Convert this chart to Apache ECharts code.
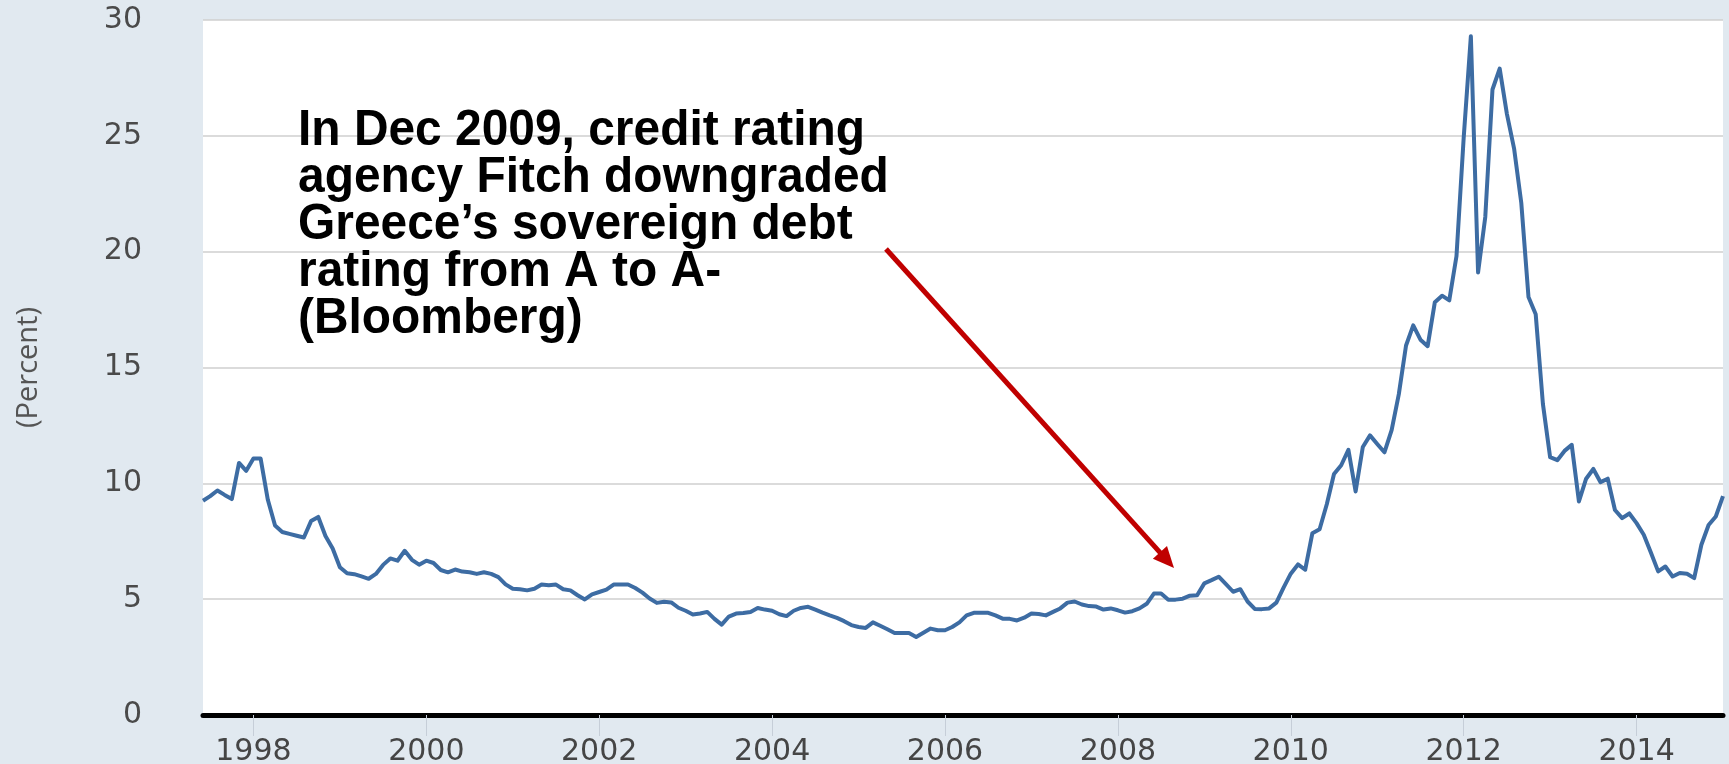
<!DOCTYPE html>
<html>
<head>
<meta charset="utf-8">
<title>Greece long-term government bond yields</title>
<script src="https://cdn.jsdelivr.net/npm/echarts@6/dist/echarts.min.js"></script>
<style>
  html, body { margin: 0; padding: 0; background: #e1e9f0; }
  #chart { width: 1729px; height: 764px; }
</style>
</head>
<body>
<div id="chart"></div>
<script>
// Monthly long-term interest rate for Greece, percent (Jun 1997 - Jan 2015)
const firstYear = 1997;
const firstMonth = 6;
const yields1997 = [9.25, 9.45, 9.69, 9.5, 9.32, 10.88, 10.54];
const yields1998 = [11.07, 11.07, 9.29, 8.18, 7.9, 7.82, 7.74, 7.66, 8.37, 8.55, 7.73, 7.19];
const yields1999 = [6.38, 6.12, 6.08, 5.98, 5.88, 6.09, 6.48, 6.76, 6.66, 7.09, 6.70, 6.49];
const yields2000 = [6.66, 6.56, 6.26, 6.16, 6.28, 6.19, 6.16, 6.09, 6.16, 6.09, 5.95, 5.64];
const yields2001 = [5.45, 5.43, 5.38, 5.45, 5.63, 5.60, 5.63, 5.43, 5.38, 5.17, 4.99, 5.21];
const yields2002 = [5.31, 5.41, 5.63, 5.63, 5.63, 5.48, 5.28, 5.03, 4.84, 4.89, 4.86, 4.63];
const yields2003 = [4.5, 4.34, 4.38, 4.45, 4.15, 3.9, 4.25, 4.38, 4.4, 4.45, 4.62, 4.55];
const yields2004 = [4.5, 4.35, 4.27, 4.5, 4.62, 4.67, 4.55, 4.42, 4.3, 4.19, 4.05, 3.88];
const yields2005 = [3.8, 3.76, 4.0, 3.85, 3.7, 3.54, 3.54, 3.54, 3.37, 3.55, 3.73, 3.66];
const yields2006 = [3.66, 3.8, 4.0, 4.3, 4.41, 4.41, 4.41, 4.3, 4.16, 4.15, 4.08, 4.2];
const yields2007 = [4.38, 4.36, 4.3, 4.45, 4.6, 4.85, 4.9, 4.77, 4.7, 4.68, 4.55, 4.6];
const yields2008 = [4.52, 4.42, 4.48, 4.6, 4.8, 5.24, 5.24, 4.97, 4.98, 5.02, 5.15, 5.17];
const yields2009 = [5.68, 5.82, 5.97, 5.65, 5.32, 5.43, 4.9, 4.58, 4.57, 4.6, 4.85, 5.5];
const yields2010 = [6.1, 6.5, 6.27, 7.85, 8.02, 9.1, 10.4, 10.78, 11.45, 9.65, 11.57, 12.07];
const yields2011 = [11.7, 11.34, 12.3, 13.85, 15.95, 16.82, 16.2, 15.92, 17.82, 18.1, 17.9, 19.8];
const yields2012 = [24.9, 29.3, 19.1, 21.5, 27.0, 27.9, 25.95, 24.45, 22.1, 18.04, 17.3, 13.43];
const yields2013 = [11.13, 11.0, 11.4, 11.66, 9.22, 10.2, 10.62, 10.05, 10.2, 8.85, 8.5, 8.7];
const yields2014 = [8.28, 7.78, 7.0, 6.2, 6.41, 5.98, 6.13, 6.1, 5.91, 7.35, 8.2, 8.57];
const yields2015 = [9.45];

const yieldValues = [].concat(
  yields1997, yields1998, yields1999, yields2000, yields2001, yields2002,
  yields2003, yields2004, yields2005, yields2006, yields2007, yields2008,
  yields2009, yields2010, yields2011, yields2012, yields2013, yields2014, yields2015
);

// Year labels shown under the axis (every second January)
const yearLabels = ['1998', '2000', '2002', '2004', '2006', '2008', '2010', '2012', '2014'];

const yTicks = { min: 0, max: 30, step: 5 };

const noteLines = [
  'In Dec 2009, credit rating',
  'agency Fitch downgraded',
  'Greece\u2019s sovereign debt',
  'rating from A to A-',
  '(Bloomberg)'
];

// Month categories "YYYY-MM"
const months = yieldValues.map(function (_, i) {
  const total = (firstMonth - 1) + i;
  const y = firstYear + Math.floor(total / 12);
  const m = (total % 12) + 1;
  return y + '-' + (m < 10 ? '0' + m : m);
});

function isYearTick(index) {
  const cat = months[index];
  return cat.slice(5) === '01' && yearLabels.indexOf(cat.slice(0, 4)) >= 0;
}

// Arrow from the note down to the 2008-2009 stretch of the line
const arrowFrom = [886, 249];
const arrowTip = [1174, 568];
const headLen = 21, headHalf = 9.5;
const dx = arrowTip[0] - arrowFrom[0], dy = arrowTip[1] - arrowFrom[1];
const len = Math.sqrt(dx * dx + dy * dy);
const ux = dx / len, uy = dy / len;
const baseX = arrowTip[0] - ux * headLen, baseY = arrowTip[1] - uy * headLen;

const chart = echarts.init(document.getElementById('chart'));
chart.setOption({
  backgroundColor: '#e1e9f0',
  animation: false,
  grid: {
    left: 203, right: 6, top: 20, bottom: 49,
    show: true, backgroundColor: '#ffffff', borderWidth: 0,
    containLabel: false, outerBoundsMode: 'none'
  },
  xAxis: {
    type: 'category',
    data: months,
    boundaryGap: false,
    axisLine: { show: true, onZero: false, lineStyle: { color: '#000000', width: 5 } },
    axisTick: {
      show: true, interval: isYearTick, length: 21,
      lineStyle: { color: '#c6ced8', width: 1 }
    },
    axisLabel: {
      interval: isYearTick,
      formatter: function (v) { return v.slice(0, 4); },
      fontFamily: 'DejaVu Sans', fontSize: 30, color: '#454545', margin: 22
    },
    splitLine: { show: false }
  },
  yAxis: {
    type: 'value',
    min: yTicks.min, max: yTicks.max, interval: yTicks.step,
    name: '(Percent)',
    nameLocation: 'middle',
    nameRotate: 90,
    nameGap: 160,
    nameTextStyle: { fontFamily: 'Open Sans', fontSize: 29, color: '#555555' },
    axisLine: { show: false },
    axisTick: { show: false },
    axisLabel: { fontFamily: 'DejaVu Sans', fontSize: 30, color: '#4a4a4a', margin: 61 },
    splitLine: { show: true, lineStyle: { color: '#cfcfcf', width: 1.6 } }
  },
  series: [{
    type: 'line',
    data: yieldValues,
    showSymbol: false,
    symbol: 'none',
    lineStyle: { color: '#3d6ca3', width: 4, join: 'round' },
    itemStyle: { color: '#3d6ca3' },
    z: 3
  }],
  graphic: [
    {
      type: 'text',
      x: 298, y: 108,
      scaleX: 0.958,
      z: 10,
      style: {
        text: noteLines.join('\n'),
        font: 'bold 50px "Liberation Sans", Arial, sans-serif',
        fill: '#000000',
        lineHeight: 47,
        align: 'left',
        verticalAlign: 'top'
      }
    },
    {
      type: 'line',
      z: 10,
      shape: { x1: arrowFrom[0], y1: arrowFrom[1], x2: baseX + ux * 2, y2: baseY + uy * 2 },
      style: { stroke: '#c00000', lineWidth: 5 }
    },
    {
      type: 'polygon',
      z: 10,
      shape: {
        points: [
          arrowTip,
          [baseX - uy * headHalf, baseY + ux * headHalf],
          [baseX + uy * headHalf, baseY - ux * headHalf]
        ]
      },
      style: { fill: '#c00000' }
    }
  ]
});
</script>
</body>
</html>
